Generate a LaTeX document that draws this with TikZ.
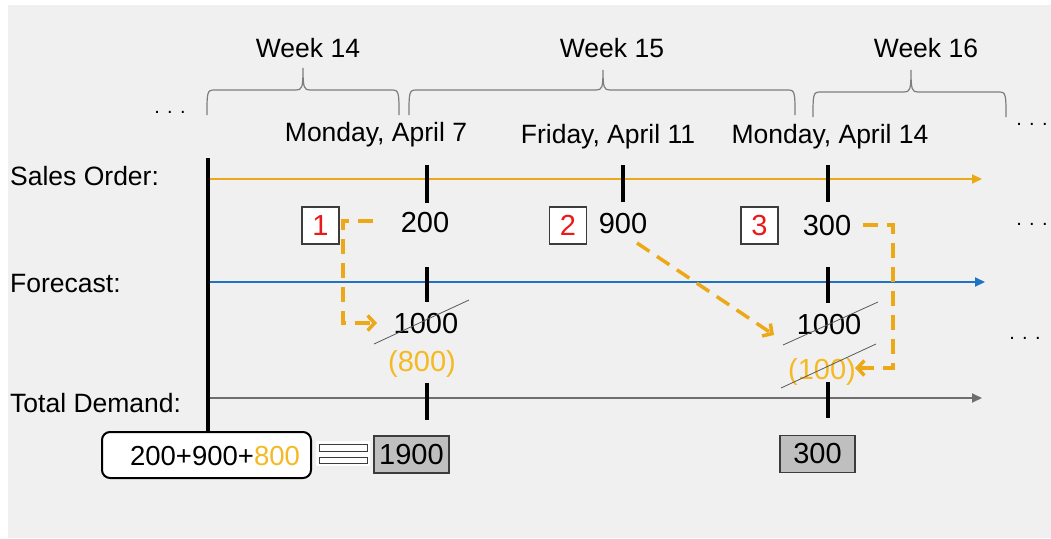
\documentclass[tikz,border=0pt]{standalone}
\usepackage{fontspec}
\setmainfont{Liberation Sans}
\usetikzlibrary{arrows.meta}
\definecolor{bg}{RGB}{240,240,240}
\definecolor{orng}{RGB}{236,168,22}
\definecolor{orngtxt}{RGB}{245,185,35}
\definecolor{blu}{RGB}{30,115,195}
\definecolor{gry}{RGB}{110,110,110}
\definecolor{brc}{RGB}{125,125,125}
\definecolor{numred}{RGB}{235,25,25}
\definecolor{boxgray}{RGB}{191,191,191}
\definecolor{boxline}{RGB}{60,60,60}
\begin{document}
\begin{tikzpicture}[x=1pt,y=-1pt,
  lbl/.style={font=\fontsize{26.5}{30}\selectfont, inner sep=0pt, anchor=base},
  num/.style={font=\fontsize{29}{32}\selectfont, inner sep=0pt, anchor=base},
  dots/.style={font=\fontsize{20}{22}\selectfont, inner sep=0pt, anchor=base},
  brace/.style={draw=brc, line width=1.2pt},
  axis/.style={line width=2pt, -{Triangle[length=10pt,width=9pt]}},
  tick/.style={line width=3.5pt, black},
  flow/.style={draw=orng, line width=3.5pt, dash pattern=on 15pt off 9pt,
     -{Straight Barb[length=7pt,width=15pt,line width=3.5pt]}},
  strike/.style={draw=gray!70!black, line width=0.8pt},
  stepnum/.style={draw=boxline, line width=1.3pt, fill=white, minimum width=37pt,
     minimum height=37pt, inner sep=0pt, text=numred, font=\fontsize{29}{32}\selectfont},
  total/.style={draw=boxline, line width=1.3pt, fill=boxgray, minimum width=75pt,
     minimum height=37pt, inner sep=0pt, font=\fontsize{29}{32}\selectfont},
  eqbar/.style={draw=boxline, line width=1pt, fill=white}
]
\useasboundingbox (0,0) rectangle (1051,538);
\fill[white] (0,0) rectangle (1051,538);
\fill[bg] (8,5) rectangle (1051,538);

% week labels
\node[lbl] (w14) at (308,57) {Week 14};
\node[lbl] (w15) at (612,57) {Week 15};
\node[lbl] (w16) at (926,57) {Week 16};

% braces
\draw[brace] (207,115) .. controls (207,93) and (207,90) .. (214,90) -- (296,90)
  .. controls (302,90) and (303,88) .. (303,68)
  .. controls (303,88) and (304,90) .. (310,90) -- (392,90)
  .. controls (399,90) and (399,93) .. (399,115);
\draw[brace] (409,115) .. controls (409,93) and (409,90) .. (416,90) -- (596,90)
  .. controls (602,90) and (603,88) .. (603,70)
  .. controls (603,88) and (604,90) .. (610,90) -- (788,90)
  .. controls (795,90) and (795,93) .. (795,115);
\draw[brace] (813,117) .. controls (813,95) and (813,92) .. (820,92) -- (904,92)
  .. controls (910,92) and (911,90) .. (911,70)
  .. controls (911,90) and (912,92) .. (918,92) -- (999,92)
  .. controls (1006,92) and (1006,95) .. (1006,117);

% dots
\node[dots] (dtl) at (170,113) {. . .};
\node[dots] (dtr) at (1032,125) {. . .};
\node[dots] (dmr) at (1032,225) {. . .};
\node[dots] (dlr) at (1025,339) {. . .};

% dates
\node[lbl] (d7) at (376,141) {Monday, April 7};
\node[lbl] (d11) at (608,143) {Friday, April 11};
\node[lbl] (d14) at (830,143) {Monday, April 14};

% row labels
\node[lbl, anchor=base west] (lso) at (10,185) {Sales Order:};
\node[lbl, anchor=base west] (lfc) at (10,292) {Forecast:};
\node[lbl, anchor=base west] (ltd) at (10,412) {Total Demand:};

% axes
\coordinate (so0) at (208,179); \coordinate (so1) at (982,179);
\coordinate (fc0) at (208,282); \coordinate (fc1) at (985,282);
\coordinate (td0) at (208,398); \coordinate (td1) at (982,398);
\draw[axis, orng] (so0) -- (so1);
\draw[axis, blu] (fc0) -- (fc1);
\draw[axis, gry] (td0) -- (td1);

% bottom formula box
\node[draw=black, line width=2pt, rounded corners=8pt, fill=white,
  minimum width=209pt, minimum height=46pt, inner sep=0pt] (fbox) at (206.5,455) {};
\node[num, font=\fontsize{27.5}{32}\selectfont] (ftxt) at (215,465) {200+900+\textcolor{orngtxt}{800}};
\draw[line width=3.5pt] (208,158) -- (fbox.north -| 208,0);

% ticks
\draw[tick] (427,165) -- (427,203);
\draw[tick] (623,165) -- (623,202);
\draw[tick] (828,165) -- (828,202);
\draw[tick] (427,267) -- (427,302);
\draw[tick] (828,267) -- (828,303);
\draw[tick] (427,383) -- (427,420);
\draw[tick] (828,382) -- (828,418);

% step boxes and sales numbers
\node[stepnum] (s1) at (320.5,225.5) {1};
\node[stepnum] (s2) at (568,225.5) {2};
\node[stepnum] (s3) at (759.5,225.5) {3};
\node[num] (o200) at (425,232) {200};
\node[num] (o900) at (623,233) {900};
\node[num] (o300) at (827,235) {300};

% forecast numbers
\node[num] (f1) at (426,333) {1000};
\node[num, text=orngtxt] (r1) at (422,371) {(800)};
\node[num] (f2) at (829,334) {1000};
\node[num, text=orngtxt] (r2) at (822,379) {(100)};
\draw[strike] (374,344) -- (469,300);
\draw[strike] (783,345) -- (878,302);
\draw[strike] (781,388) -- (876,344);

% dashed flows
\coordinate (a1s) at (373,221); \coordinate (a1e) at (377,323);
\coordinate (a2s) at (637,243); \coordinate (a2e) at (774,335);
\coordinate (a3s) at (863,225); \coordinate (a3e) at (855,368);
\draw[flow] (a1s) -- (343,221) -- (343,323) -- (a1e);
\draw[flow] (a2s) -- (a2e);
\draw[flow] (a3s) -- (893,225) -- (893,368) -- (a3e);

% equals sign
\fill[white] (316,441) rectangle (370,466);
\draw[eqbar] (319,444) rectangle (367,451);
\draw[eqbar] (319,457) rectangle (367,463);

% totals
\node[total] (t1) at (411.5,454.5) {1900};
\node[total] (t2) at (817.5,454) {300};
\end{tikzpicture}
\end{document}
